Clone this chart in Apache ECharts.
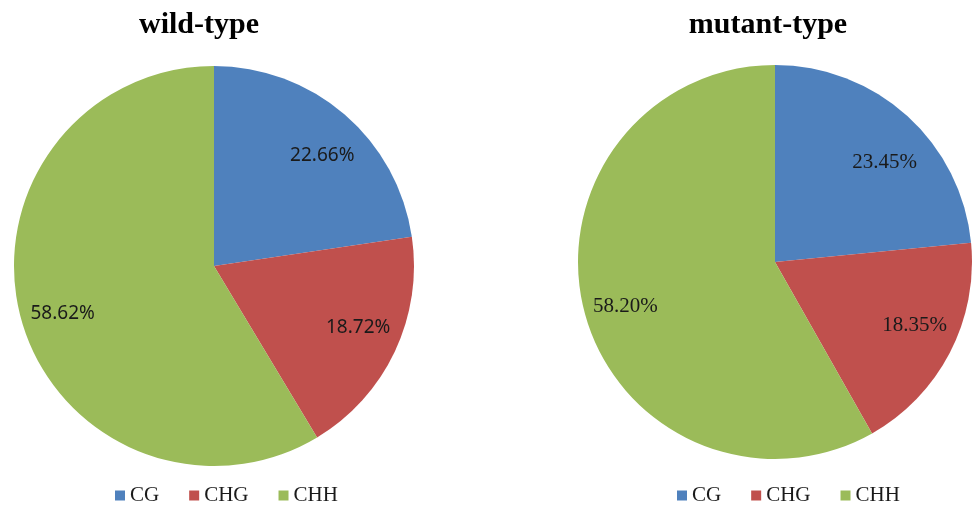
<!DOCTYPE html>
<html>
<head>
<meta charset="utf-8">
<script src="https://cdn.jsdelivr.net/npm/echarts@6/dist/echarts.min.js"></script>
<style>
  html, body { margin: 0; padding: 0; background: #fff; }
  #chart { width: 973px; height: 507px; }
</style>
</head>
<body>
<div id="chart"></div>
<script>
// Methylation context shares
const categories = ['CG', 'CHG', 'CHH'];
const wildValues = [22.66, 18.72, 58.62];
const mutantValues = [23.45, 18.35, 58.20];
const panelTitles = ['wild-type', 'mutant-type'];
const colors = ['#4F81BD', '#C0504D', '#9BBB59'];

const toData = vals => categories.map((name, i) => ({ name, value: vals[i] }));

const panels = [
  { values: wildValues, center: [214, 266], r: 200, labelFont: 'Noto Sans', labelSize: 19,
    nudge: [[7, 7], [4, -5], [-2, 6]] },
  { values: mutantValues, center: [775, 262], r: 197, labelFont: 'Liberation Serif', labelSize: 21,
    nudge: [[7, 14], [4, -7], [-2, 6]] }
];

const series = [];
panels.forEach(p => {
  // visible pie
  series.push({
    type: 'pie',
    center: p.center,
    radius: p.r,
    startAngle: 90,
    clockwise: true,
    silent: true,
    label: { show: false },
    labelLine: { show: false },
    itemStyle: { borderWidth: 0 },
    emphasis: { disabled: true },
    data: toData(p.values)
  });
  // transparent ring carrying the percentage labels at ~3/4 of the radius
  series.push({
    type: 'pie',
    center: p.center,
    radius: [p.r * 0.52, p.r],
    startAngle: 90,
    clockwise: true,
    silent: true,
    itemStyle: { color: 'rgba(0,0,0,0)', borderWidth: 0 },
    emphasis: { disabled: true },
    label: {
      show: true,
      position: 'inside',
      formatter: d => d.value.toFixed(2) + '%',
      fontFamily: p.labelFont,
      fontSize: p.labelSize,
      color: '#1a1a1a'
    },
    labelLayout: params => ({ dx: p.nudge[params.dataIndex][0], dy: p.nudge[params.dataIndex][1] }),
    labelLine: { show: false },
    data: toData(p.values)
  });
});

const chart = echarts.init(document.getElementById('chart'), null, { renderer: 'canvas' });
chart.setOption({
  animation: false,
  color: colors,
  title: [
    { text: panelTitles[0], left: 194, top: 5, textAlign: 'center',
      textStyle: { fontFamily: 'Liberation Serif', fontWeight: 'bold', fontSize: 30, color: '#000' } },
    { text: panelTitles[1], left: 763, top: 5, textAlign: 'center',
      textStyle: { fontFamily: 'Liberation Serif', fontWeight: 'bold', fontSize: 30, color: '#000' } }
  ],
  legend: [
    { left: 110, top: 480, itemWidth: 10, itemHeight: 10, itemGap: 30, icon: 'rect',
      data: categories, selectedMode: false,
      textStyle: { fontFamily: 'Liberation Serif', fontSize: 21, color: '#1a1a1a' } },
    { left: 672, top: 480, itemWidth: 10, itemHeight: 10, itemGap: 30, icon: 'rect',
      data: categories, selectedMode: false,
      textStyle: { fontFamily: 'Liberation Serif', fontSize: 21, color: '#1a1a1a' } }
  ],
  series
});
</script>
</body>
</html>
